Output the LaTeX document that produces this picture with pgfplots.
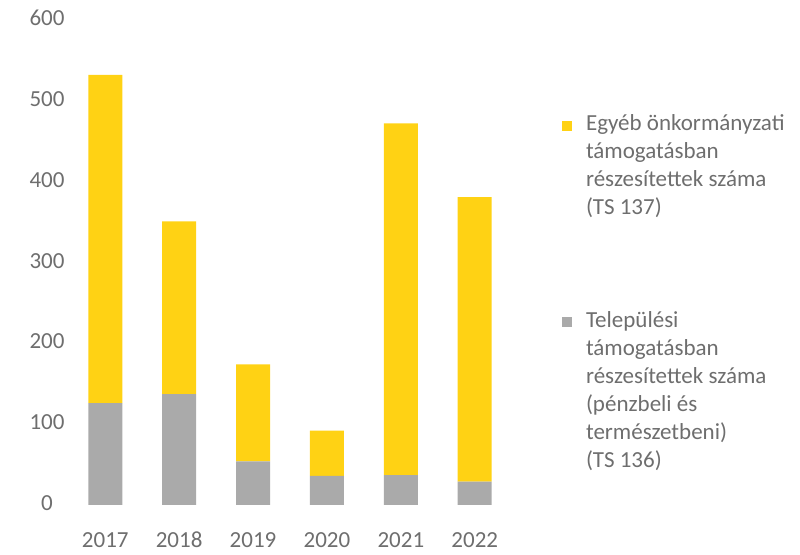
\documentclass[border=0pt]{standalone}
\usepackage{pgfplots}
\pgfplotsset{compat=1.18}
\usepackage{fontspec}
\setmainfont{Carlito}
\definecolor{sarga}{RGB}{255,210,20}
\definecolor{szurke}{RGB}{170,170,170}
\definecolor{felirat}{RGB}{110,110,110}
\begin{document}
\begin{tikzpicture}
\begin{axis}[
ybar stacked,
bar width=17pt,
width=218pt,
height=242.5pt,
scale only axis,
xmin=-0.45, xmax=5.45,
ymin=0, ymax=600,
ytick={0,100,...,600},
xtick={0,...,5},
xticklabels={2017,2018,2019,2020,2021,2022},
axis line style={draw=none},
tick style={draw=none},
/pgf/number format/assume math mode=true,
typeset ticklabels with strut,
ticklabel style={font=\fontsize{11.5}{14}\selectfont, text=felirat},
xticklabel style={yshift=-8pt},
yticklabel style={anchor=center, xshift=-12.5pt},
reverse legend,
legend image code/.code={\fill[#1,draw=none] (0pt,-10pt) rectangle (5pt,-5pt); \path (10pt,0pt);},
legend style={
    at={(1.123,0.814)},
    anchor=north west,
    draw=none,
    fill=none,
    inner sep=0pt,
    row sep=42.5pt,
    font=\fontsize{11.5}{14}\selectfont,
    text=felirat,
    cells={anchor=north west, align=left}
},
]
\addplot[fill=szurke, draw=none] coordinates {
(0,126) (1,137) (2,54) (3,36) (4,37) (5,29)
};
\addlegendentry{Települési\\támogatásban\\részesítettek száma\\(pénzbeli és\\természetbeni)\\(TS 136)}
\addplot[fill=sarga, draw=none] coordinates {
(0,406) (1,214) (2,120) (3,56) (4,435) (5,352)
};
\addlegendentry{Egyéb önkormányzati\\támogatásban\\részesítettek száma\\(TS 137)}
\end{axis}
\pgfresetboundingbox
\path (-36pt,-25pt) rectangle (364pt,252.5pt);
\end{tikzpicture}
\end{document}
